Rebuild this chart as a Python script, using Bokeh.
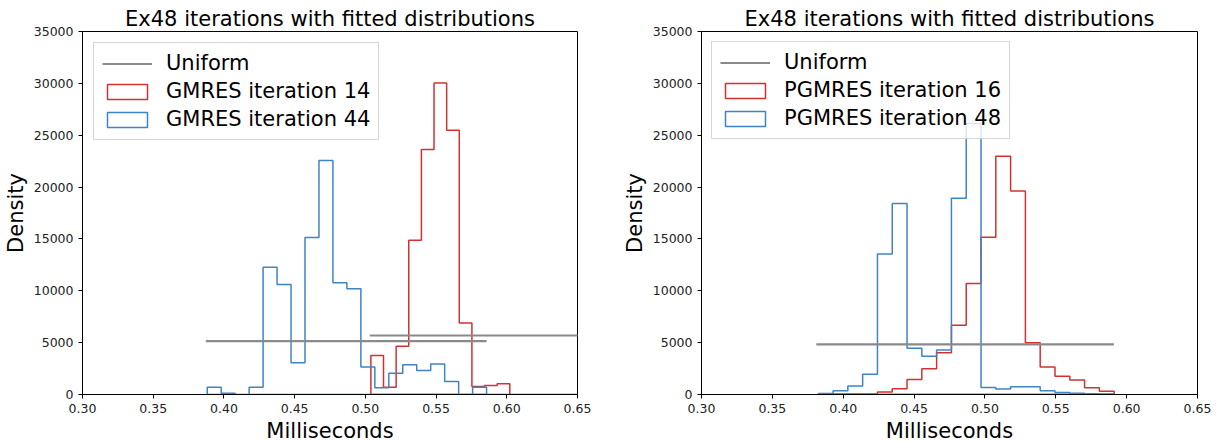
import numpy as np
from bokeh.plotting import figure
from bokeh.layouts import row
from bokeh.models import Legend, LegendItem, FixedTicker, NumeralTickFormatter, Range1d
from bokeh.embed import file_html
from bokeh.resources import INLINE

FONT = "DejaVu Sans"
TITLE = "Ex48 iterations with fitted distributions"
RED = "#d03232"
BLUE = "#3f84c4"
GRAY = "#8a8a8a"

# axis ticks
x_ticks = [0.30, 0.35, 0.40, 0.45, 0.50, 0.55, 0.60, 0.65]
y_ticks = [0, 5000, 10000, 15000, 20000, 25000, 30000, 35000]

# ---- left panel: GMRES ----
gm14_label = "GMRES iteration 14"
gm14_range = (0.5039, 0.6825)
gm14_density = [3760, 710, 4660, 14880, 23630, 30030, 25470, 6890, 770, 870,
                1030, 0, 0, 0, 0, 0, 0, 0, 0, 0]
gm44_label = "GMRES iteration 44"
gm44_range = (0.3882, 0.5857)
gm44_density = [710, 130, 0, 710, 12280, 10610, 3050, 15140, 22570, 10770,
                10190, 2640, 640, 2060, 2860, 2320, 2930, 1250, 0, 700]
gm_uniform_x0 = [0.3872, 0.5031]
gm_uniform_x1 = [0.5857, 0.6800]
gm_uniform_y = [5140, 5690]

# ---- right panel: PGMRES ----
pg16_label = "PGMRES iteration 16"
pg48_label = "PGMRES iteration 48"
pg_range = (0.3824, 0.5912)
pg16_density = [0, 50, 60, 60, 230, 550, 1450, 2480, 4030, 6680,
                10700, 15160, 22970, 19610, 5000, 2650, 1770, 1390, 645, 320]
pg48_density = [100, 370, 830, 1950, 13550, 18420, 4450, 3680, 4300, 18930,
                26120, 680, 530, 740, 740, 350, 200, 130, 80, 60]
pg_uniform_x0 = [0.381]
pg_uniform_x1 = [0.591]
pg_uniform_y = [4840]


def outline(rng, vals):
    edges = np.linspace(rng[0], rng[1], len(vals) + 1)
    xs = np.repeat(edges, 2)
    ys = np.concatenate([[0], np.repeat(np.asarray(vals, float), 2), [0]])
    return xs, ys


def make_panel(fw, bl, br, hists, ux0, ux1, uy, legend_margin):
    p = figure(frame_width=fw, frame_height=363,
               x_range=Range1d(0.30, 0.65), y_range=Range1d(0, 35000),
               output_backend="svg", toolbar_location=None, title=TITLE,
               min_border_left=bl, min_border_right=br,
               min_border_top=31, min_border_bottom=46,
               background_fill_color="white", border_fill_color="white")
    p.title.align = "center"
    p.title.text_font = FONT
    p.title.text_font_size = "21px"
    p.title.text_font_style = "normal"
    p.title.text_color = "black"
    p.title.standoff = 2

    p.grid.visible = False
    p.outline_line_color = "black"
    p.outline_line_alpha = 1
    p.outline_line_width = 1

    p.xaxis.ticker = FixedTicker(ticks=x_ticks)
    p.yaxis.ticker = FixedTicker(ticks=y_ticks)
    p.xaxis.formatter = NumeralTickFormatter(format="0.00")
    p.yaxis.formatter = NumeralTickFormatter(format="0")
    for ax in (p.xaxis, p.yaxis):
        ax.minor_tick_line_color = None
        ax.major_tick_in = 0
        ax.major_tick_out = 4
        ax.major_tick_line_color = "black"
        ax.axis_line_color = "black"
        ax.major_label_text_font = FONT
        ax.major_label_text_font_size = "12.5px"
        ax.major_label_text_color = "#222222"
        ax.axis_label_text_font = FONT
        ax.axis_label_text_font_size = "21px"
        ax.axis_label_text_font_style = "normal"
        ax.axis_label_text_color = "black"
    p.xaxis.major_label_standoff = 5
    p.xaxis.axis_label_standoff = 3
    p.yaxis.major_label_standoff = 5
    p.yaxis.axis_label_standoff = 3
    p.xaxis.axis_label = "Milliseconds"
    p.yaxis.axis_label = "Density"

    hist_items = []
    for rng, vals, color, label in hists:
        xs, ys = outline(rng, vals)
        r = p.patch(xs, ys, fill_alpha=0, line_color=color, line_width=1.5)
        hist_items.append(LegendItem(label=label, renderers=[r]))
    seg = p.segment(x0=ux0, y0=uy, x1=ux1, y1=uy, line_color=GRAY, line_width=2.2)
    items = [LegendItem(label="Uniform", renderers=[seg])] + hist_items

    legend = Legend(items=items, location="top_left", margin=legend_margin,
                    label_text_font=FONT, label_text_font_size="21px",
                    label_text_color="black",
                    glyph_width=50, glyph_height=19, label_standoff=14,
                    padding=8, spacing=4, label_height=24,
                    border_line_color="#cccccc", border_line_alpha=0.8,
                    border_line_width=1,
                    background_fill_color="white", background_fill_alpha=0.8)
    p.add_layout(legend)
    return p


left = make_panel(495, 80, 31,
                  [(gm14_range, gm14_density, RED, gm14_label),
                   (gm44_range, gm44_density, BLUE, gm44_label)],
                  gm_uniform_x0, gm_uniform_x1, gm_uniform_y, 11)
right = make_panel(496, 93, 20,
                   [(pg_range, pg16_density, RED, pg16_label),
                    (pg_range, pg48_density, BLUE, pg48_label)],
                   pg_uniform_x0, pg_uniform_x1, pg_uniform_y, 10)

layout = row(left, right, spacing=0)
open("out.html", "w").write(file_html(layout, INLINE))
